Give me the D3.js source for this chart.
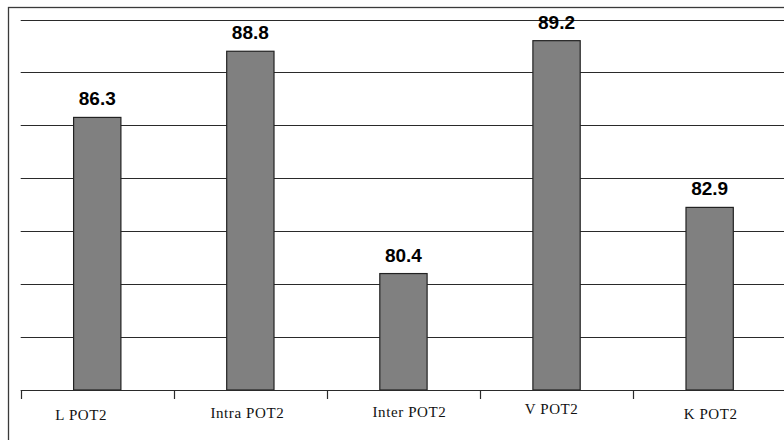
<!DOCTYPE html>
<html>
<head>
<meta charset="utf-8">
<script src="https://cdn.jsdelivr.net/npm/d3@7"></script>
<style>
  html, body { margin: 0; padding: 0; background: #fff; }
  svg { display: block; }
</style>
</head>
<body>
<svg id="chart" width="784" height="440"></svg>
<script>
// ---- data ----
const categories = ["L POT2", "Intra POT2", "Inter POT2", "V POT2", "K POT2"];
const values = [86.3, 88.8, 80.4, 89.2, 82.9];
const valueLabels = ["86.3", "88.8", "80.4", "89.2", "82.9"];
const yTicks = [76, 78, 80, 82, 84, 86, 88, 90];

// ---- layout (not data) ----
const W = 784, H = 440;
const plot = { left: 20.7, right: 786.2, top: 19.5, bottom: 390 };
// slight per-label placement shifts seen in the original rendering
const labelShift = [[-16, 420], [-3, 418], [6, 417], [-5, 413.5], [1, 419]];

const svg = d3.select("#chart");

const x = d3.scaleBand().domain(categories).range([plot.left, plot.right]).padding(0);
const y = d3.scaleLinear().domain([76, 90]).range([plot.bottom, plot.top]);
const barW = x.bandwidth() * 0.309;

// outer frame
svg.append("rect")
  .attr("x", 8.5).attr("y", 7.5)
  .attr("width", W + 10).attr("height", H + 10)
  .attr("fill", "none").attr("stroke", "#3a3a3a").attr("stroke-width", 1.3);

// gridlines
svg.append("g").selectAll("line")
  .data(yTicks.filter(t => t !== 76))
  .join("line")
  .attr("x1", plot.left).attr("x2", W)
  .attr("y1", d => Math.round(y(d)) + 0.5).attr("y2", d => Math.round(y(d)) + 0.5)
  .attr("stroke", "#2a2a2a").attr("stroke-width", 1.2);

// bars
svg.append("g").selectAll("rect")
  .data(values)
  .join("rect")
  .attr("x", (d, i) => x(categories[i]) + (x.bandwidth() - barW) / 2)
  .attr("y", d => y(d))
  .attr("width", barW)
  .attr("height", d => y(76) - y(d))
  .attr("fill", "#808080")
  .attr("stroke", "#222")
  .attr("stroke-width", 1.2);

// value labels
svg.append("g").selectAll("text")
  .data(values)
  .join("text")
  .attr("x", (d, i) => x(categories[i]) + x.bandwidth() / 2)
  .attr("y", d => y(d) - 12)
  .attr("text-anchor", "middle")
  .attr("font-family", "'Liberation Sans', Arial, sans-serif")
  .attr("font-weight", "bold")
  .attr("font-size", 19)
  .attr("fill", "#000")
  .text((d, i) => valueLabels[i]);

// x axis
const xAxis = d3.axisBottom(x).tickSize(0).tickFormat("");
const gx = svg.append("g").attr("transform", `translate(0,${plot.bottom + 0.5})`).call(xAxis);
gx.select(".domain").attr("stroke", "#2a2a2a").attr("stroke-width", 1.2)
  .attr("d", `M${plot.left},0H${W}`);
gx.selectAll(".tick").remove();

// tick marks at category boundaries
const bounds = categories.map(c => x(c));
svg.append("g").selectAll("line")
  .data(bounds)
  .join("line")
  .attr("x1", d => Math.round(d) + 0.5).attr("x2", d => Math.round(d) + 0.5)
  .attr("y1", plot.bottom).attr("y2", plot.bottom + 9)
  .attr("stroke", "#2a2a2a").attr("stroke-width", 1.2);

// category labels
svg.append("g").selectAll("text")
  .data(categories)
  .join("text")
  .attr("x", (d, i) => x(d) + x.bandwidth() / 2 + labelShift[i][0])
  .attr("y", (d, i) => labelShift[i][1])
  .attr("text-anchor", "middle")
  .attr("font-family", "'Liberation Serif', 'Times New Roman', serif")
  .attr("font-size", 15)
  .attr("letter-spacing", 0.6)
  .attr("fill", "#111")
  .text(d => d);
</script>
</body>
</html>
